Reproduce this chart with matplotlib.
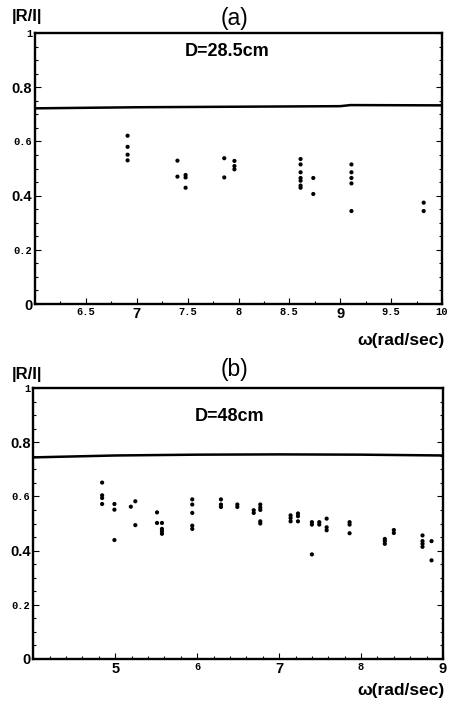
import matplotlib
matplotlib.use("Agg")
import matplotlib.pyplot as plt
from matplotlib.ticker import MultipleLocator, FixedLocator

# ---------------- data ----------------
# Panel (a): D = 28.5 cm
a_x = [6.91, 6.91, 6.91, 6.91,
       7.40, 7.40,
       7.48, 7.48, 7.48,
       7.86, 7.86,
       7.96, 7.96, 7.96,
       8.61, 8.61, 8.61, 8.61, 8.61, 8.61, 8.61,
       8.735, 8.735,
       9.11, 9.11, 9.11, 9.11, 9.11,
       9.82, 9.82]
a_y = [0.621, 0.580, 0.551, 0.530,
       0.529, 0.470,
       0.476, 0.467, 0.429,
       0.538, 0.467,
       0.528, 0.509, 0.497,
       0.535, 0.515, 0.486, 0.465, 0.455, 0.437, 0.429,
       0.465, 0.406,
       0.515, 0.486, 0.465, 0.445, 0.343,
       0.374, 0.343]
a_line_x = [6.0, 7.0, 8.0, 9.0, 9.1, 10.0]
a_line_y = [0.722, 0.726, 0.728, 0.730, 0.734, 0.733]

# Panel (b): D = 48 cm
b_x = [4.84, 4.84, 4.84, 4.84,
       4.99, 4.99, 4.99,
       5.19,
       5.245, 5.245,
       5.51, 5.51,
       5.57, 5.57, 5.57, 5.57,
       5.94, 5.94, 5.94, 5.94, 5.94,
       6.29, 6.29, 6.29,
       6.49, 6.49,
       6.69, 6.69,
       6.77, 6.77, 6.77, 6.77, 6.77,
       7.14, 7.14, 7.14,
       7.23, 7.23, 7.23,
       7.40, 7.40, 7.40,
       7.49, 7.49,
       7.58, 7.58, 7.58,
       7.86, 7.86, 7.86,
       8.29, 8.29, 8.29,
       8.40, 8.40,
       8.75, 8.75, 8.75, 8.75,
       8.86, 8.86]
b_y = [0.651, 0.604, 0.594, 0.572,
       0.572, 0.551, 0.439,
       0.562,
       0.582, 0.494,
       0.541, 0.502,
       0.502, 0.480, 0.471, 0.462,
       0.589, 0.570, 0.539, 0.492, 0.480,
       0.589, 0.570, 0.561,
       0.570, 0.561,
       0.549, 0.539,
       0.570, 0.559, 0.550, 0.508, 0.500,
       0.530, 0.520, 0.508,
       0.537, 0.527, 0.508,
       0.505, 0.496, 0.386,
       0.505, 0.496,
       0.518, 0.486, 0.475,
       0.505, 0.496, 0.464,
       0.443, 0.435, 0.425,
       0.476, 0.465,
       0.456, 0.435, 0.425, 0.414,
       0.435, 0.364]
b_line_x = [4.0, 5.0, 6.0, 7.0, 8.0, 9.0]
b_line_y = [0.744, 0.751, 0.754, 0.755, 0.754, 0.751]

y_ticks = [0, 0.2, 0.4, 0.6, 0.8, 1.0]
y_labels = ["0", "0.2", "0.4", "0.6", "0.8", "1"]
y_mono = [False, True, False, True, False, True]

a_ticks = [6.5, 7, 7.5, 8, 8.5, 9, 9.5, 10]
a_labels = ["6.5", "7", "7.5", "8", "8.5", "9", "9.5", "10"]
a_mono = [True, False, True, True, True, False, True, True]

b_ticks = [5, 6, 7, 8, 9]
b_labels = ["5", "6", "7", "8", "9"]
b_mono = [False, True, False, True, False]

W, H = 453, 704
fig = plt.figure(figsize=(W / 100, H / 100), dpi=100)
fig.patch.set_facecolor("white")


def style_ticklabels(labels, mono_flags):
    for lab, m in zip(labels, mono_flags):
        if m:
            lab.set_family("Liberation Mono")
            lab.set_fontweight("bold")
            lab.set_fontsize(7.5)
        else:
            lab.set_family("Liberation Sans")
            lab.set_fontweight("bold")
            lab.set_fontsize(10.5)


def make_panel(rect, xs, ys, lx, ly, xlim, xticks, xlabels, xmono, xminor,
               dtext, dpos, title, title_y, rlabel_y, wlabel_y):
    ax = fig.add_axes(rect)
    ax.plot(lx, ly, color="black", lw=1.8)
    ax.scatter(xs, ys, s=9, color="black", edgecolors="none", zorder=3)
    ax.set_xlim(*xlim)
    ax.set_ylim(0, 1)
    for sp in ax.spines.values():
        sp.set_linewidth(1.7)
    ax.xaxis.set_major_locator(FixedLocator(xticks))
    ax.set_xticklabels(xlabels)
    ax.xaxis.set_minor_locator(MultipleLocator(xminor))
    ax.yaxis.set_major_locator(FixedLocator(y_ticks))
    ax.set_yticklabels(y_labels)
    ax.yaxis.set_minor_locator(MultipleLocator(0.05))
    ax.tick_params(which="both", direction="in", left=True, right=True,
                   top=False, bottom=True, width=0.8)
    ax.tick_params(which="major", length=4, pad=2)
    ax.tick_params(which="minor", length=2)
    style_ticklabels(ax.get_xticklabels(), xmono)
    style_ticklabels(ax.get_yticklabels(), y_mono)
    ax.text(dpos[0], dpos[1], dtext, transform=ax.transAxes, ha="center",
            va="center", fontsize=13, family="Liberation Sans",
            fontweight="bold")
    fig.text(235 / W, 1 - title_y / H, title, ha="center", va="center",
             fontsize=16.5, family="Liberation Sans")
    fig.text(12 / W, 1 - rlabel_y / H, "|R/I|", ha="left", va="center",
             fontsize=12, fontweight="bold", family="Liberation Sans")
    fig.text(445 / W, 1 - wlabel_y / H, "ω(rad/sec)", ha="right",
             va="center", fontsize=12.5, family="Liberation Sans",
             fontweight="bold")
    return ax


make_panel([35 / W, 1 - 304 / H, 407 / W, 271 / H], a_x, a_y,
           a_line_x, a_line_y, (6.0, 10.0), a_ticks, a_labels, a_mono, 0.25,
           "D=28.5cm", (0.472, 0.93), "(a)", 18, 16, 340)

make_panel([33.3 / W, 1 - 659 / H, 409.7 / W, 271 / H], b_x, b_y,
           b_line_x, b_line_y, (4.0, 9.0), b_ticks, b_labels, b_mono, 0.2,
           "D=48cm", (0.48, 0.895), "(b)", 370, 374, 690)

fig.savefig("out.png", dpi=100, facecolor="white")
